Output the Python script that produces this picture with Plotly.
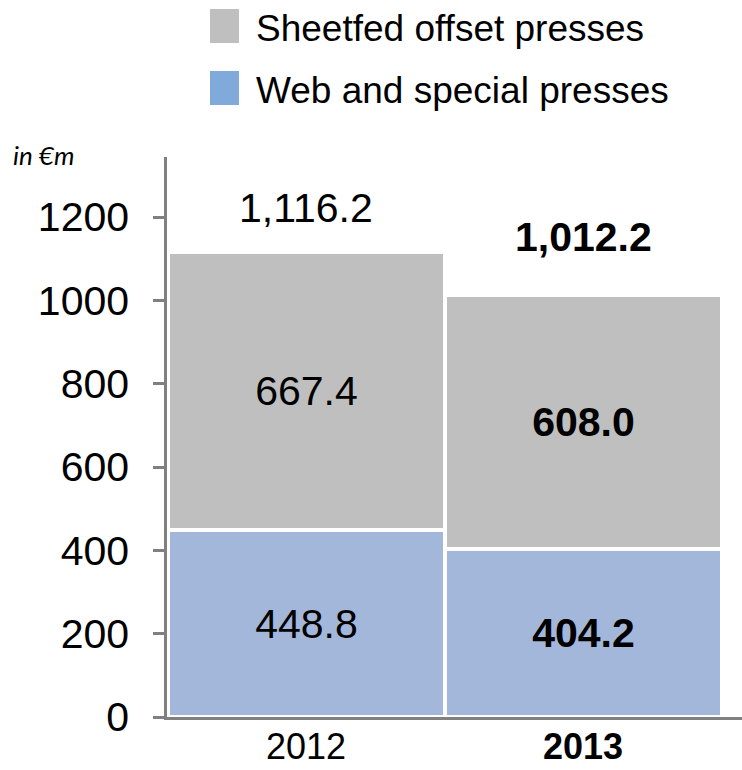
import plotly.graph_objects as go

# ---- data -------------------------------------------------------------
years = ["2012", "2013"]
series_names = ["Sheetfed offset presses", "Web and special presses"]
sheetfed = [667.4, 608.0]
web_special = [448.8, 404.2]
y_ticks = [0, 200, 400, 600, 800, 1000, 1200]
unit_label = "in €m"

# ---- styling ----------------------------------------------------------
W, H = 742, 770
ML, MR, MT, MB = 167, 0, 157, 53
PW, PH = W - ML - MR, H - MT - MB
FONT = "Arial, 'Liberation Sans', sans-serif"
GRAY = "#bfbfbf"
BLUE_BAR = "#a3b7db"
BLUE_KEY = "#80aad9"
AXIS = "#808080"
bold_year = [False, True]
total_shift = [44, 58]


def px_x(p):
    return (p - ML) / PW


def px_y(p):
    return (H - MB - p) / PH


def fmt(v, bold, thousands=False):
    s = f"{v:,.1f}" if thousands else f"{v:.1f}"
    return f"<b>{s}</b>" if bold else s


totals = [a + b for a, b in zip(sheetfed, web_special)]

fig = go.Figure()
fig.add_trace(go.Bar(
    x=years, y=web_special, name=series_names[1],
    marker=dict(color=BLUE_BAR, line=dict(color="white", width=4)),
    text=[fmt(v, b) for v, b in zip(web_special, bold_year)],
    textposition="inside", insidetextanchor="middle",
    textfont=dict(family=FONT, size=41, color="black"),
    showlegend=False,
))
fig.add_trace(go.Bar(
    x=years, y=sheetfed, name=series_names[0],
    marker=dict(color=GRAY, line=dict(color="white", width=4)),
    text=[fmt(v, b) for v, b in zip(sheetfed, bold_year)],
    textposition="inside", insidetextanchor="middle",
    textfont=dict(family=FONT, size=41, color="black"),
    showlegend=False,
))

annotations = []
# totals above each stack (category index on the x axis)
for i, (tot, b, sh) in enumerate(zip(totals, bold_year, total_shift)):
    annotations.append(dict(
        x=i, y=tot, xref="x", yref="y", text=fmt(tot, b, thousands=True),
        showarrow=False, yanchor="middle", yshift=sh,
        font=dict(family=FONT, size=41, color="black"),
    ))

# legend keys drawn as squares with labels
shapes = []
key_colors = [GRAY, BLUE_KEY]
key_tops = [9, 71]
for name, col, top in zip(series_names, key_colors, key_tops):
    shapes.append(dict(
        type="rect", xref="paper", yref="paper",
        x0=px_x(210), x1=px_x(239), y0=px_y(top + 34), y1=px_y(top),
        fillcolor=col, line=dict(width=0),
    ))
    annotations.append(dict(
        x=px_x(254), y=px_y(top + 20), xref="paper", yref="paper",
        text=name, showarrow=False, xanchor="left", yanchor="middle",
        font=dict(family=FONT, size=37, color="black"),
    ))

# unit label
annotations.append(dict(
    x=px_x(11), y=px_y(155), xref="paper", yref="paper",
    text=f"<i>{unit_label}</i>", showarrow=False,
    xanchor="left", yanchor="middle",
    font=dict(family="Lato, 'Open Sans', sans-serif", size=26, color="black"),
))

fig.update_layout(
    width=W, height=H,
    margin=dict(l=ML, r=MR, t=MT, b=MB, pad=0, autoexpand=False),
    paper_bgcolor="white", plot_bgcolor="white",
    barmode="stack", bargap=0,
    shapes=shapes, annotations=annotations,
    xaxis=dict(
        type="category", range=[-0.502, 1.574], automargin=False,
        tickvals=years,
        ticktext=[f"<b>{y}</b>" if b else y for y, b in zip(years, bold_year)],
        tickfont=dict(family=FONT, size=36, color="black"),
        ticks="", showgrid=False, zeroline=False,
        showline=True, linecolor=AXIS, linewidth=2.5,
        ticklabelstandoff=-4,
    ),
    yaxis=dict(
        range=[0, 1344], tickvals=y_ticks, automargin=False,
        tickfont=dict(family=FONT, size=41, color="black"),
        ticks="outside", ticklen=11, tickwidth=2.5, tickcolor=AXIS,
        showgrid=False, zeroline=False,
        showline=True, linecolor=AXIS, linewidth=2.5,
        ticklabelstandoff=16,
    ),
)

fig.write_html("out.html")
